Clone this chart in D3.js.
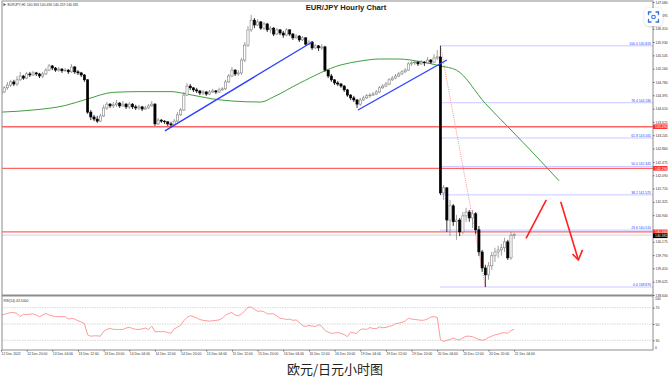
<!DOCTYPE html>
<html>
<head>
<meta charset="utf-8">
<script src="https://cdn.jsdelivr.net/npm/d3@7"></script>
<style>
  html, body { margin: 0; padding: 0; background: #fff; }
  svg { display: block; }
</style>
</head>
<body>
<svg id="chart" width="672" height="378"></svg>
<script>
// EUR/JPY H1 candles (open = previous close)
const timeLabels = [
  "12 Dec 2022", "12 Dec 20:00", "13 Dec 04:00", "13 Dec 12:00", "13 Dec 20:00",
  "14 Dec 04:00", "14 Dec 12:00", "14 Dec 20:00", "15 Dec 04:00", "15 Dec 12:00",
  "15 Dec 20:00", "16 Dec 04:00", "16 Dec 12:00", "16 Dec 20:00", "19 Dec 04:00",
  "19 Dec 12:00", "19 Dec 20:00", "20 Dec 04:00", "20 Dec 12:00", "20 Dec 20:00",
  "21 Dec 04:00"
];
const barsPerLabel = 8;

const firstOpen = 144.43;
const closes = [
  144.49, 144.61, 144.69, 144.78, 144.72, 144.84, 144.95, 144.89, 145.01, 144.98,
  145.04, 145.01, 144.95, 145.01, 145.12, 145.24, 145.18, 145.12, 145.15, 145.10,
  145.12, 145.07, 145.21, 145.07, 145.04, 144.98, 144.84, 143.91, 143.77, 143.71,
  143.65, 143.80, 144.03, 144.14, 144.09, 144.12, 144.17, 144.09, 144.14, 144.06,
  144.14, 144.06, 144.03, 144.06, 144.00, 144.03, 144.09, 144.14, 143.57, 143.68,
  143.65, 143.63, 143.57, 143.54, 143.65, 143.83, 143.97, 144.40, 144.66, 144.61,
  144.55, 144.52, 144.46, 144.49, 144.43, 144.49, 144.52, 144.49, 144.55, 144.58,
  144.78, 144.95, 145.12, 145.01, 145.04, 145.41, 145.84, 146.28, 146.56, 146.42,
  146.51, 146.33, 146.45, 146.28, 146.33, 146.16, 146.28, 146.19, 146.13, 146.28,
  146.16, 146.05, 146.10, 145.99, 146.05, 145.87, 145.93, 145.76, 145.82, 145.76,
  145.79, 145.12, 144.95, 144.84, 144.75, 144.72, 144.66, 144.55, 144.40, 144.32,
  144.26, 144.14, 144.26, 144.32, 144.38, 144.40, 144.43, 144.49, 144.61, 144.66,
  144.72, 144.84, 144.89, 144.95, 145.01, 145.07, 145.12, 145.30, 145.33, 145.35,
  145.30, 145.35, 145.33, 145.41, 145.35, 145.47, 145.50, 141.58, 141.73, 140.80,
  141.21, 140.75, 140.80, 140.46, 140.92, 141.03, 140.86, 140.98, 140.52, 139.88,
  139.42, 139.22, 139.48, 139.77, 139.88, 139.94, 140.00, 140.17, 139.71, 140.363,
  140.381
];
const highs = [
  144.58, 144.66, 144.78, 144.84, 144.84, 144.95, 145.07, 144.98, 145.07, 145.07,
  145.10, 145.07, 145.04, 145.07, 145.18, 145.30, 145.27, 145.21, 145.21, 145.18,
  145.18, 145.15, 145.30, 145.24, 145.12, 145.07, 145.01, 144.86, 143.97, 143.83,
  143.80, 143.86, 144.12, 144.20, 144.17, 144.20, 144.26, 144.20, 144.23, 144.17,
  144.20, 144.17, 144.12, 144.12, 144.09, 144.09, 144.14, 144.23, 144.17, 143.74,
  143.71, 143.68, 143.65, 143.63, 143.71, 143.91, 144.03, 144.49, 144.75, 144.72,
  144.63, 144.61, 144.55, 144.55, 144.52, 144.55, 144.58, 144.55, 144.61, 144.63,
  144.84, 145.01, 145.21, 145.15, 145.12, 145.47, 145.93, 146.39, 146.71, 146.62,
  146.59, 146.53, 146.51, 146.48, 146.39, 146.36, 146.33, 146.30, 146.25, 146.33,
  146.30, 146.19, 146.16, 146.13, 146.10, 146.07, 145.99, 145.96, 145.87, 145.84,
  145.87, 145.82, 145.12, 145.01, 144.86, 144.81, 144.75, 144.69, 144.58, 144.43,
  144.38, 144.29, 144.32, 144.38, 144.43, 144.46, 144.49, 144.55, 144.66, 144.72,
  144.78, 144.89, 144.95, 145.01, 145.07, 145.12, 145.18, 145.35, 145.38, 145.41,
  145.38, 145.41, 145.38, 145.50, 145.44, 145.58, 145.70, 145.82, 141.81, 141.73,
  141.38, 141.26, 140.95, 140.86, 141.03, 141.15, 141.09, 141.09, 141.03, 140.63,
  139.94, 139.51, 139.59, 139.88, 140.00, 140.06, 140.11, 140.29, 140.23, 140.46,
  140.436
];
const lows = [
  144.38, 144.46, 144.55, 144.63, 144.66, 144.66, 144.81, 144.84, 144.86, 144.92,
  144.95, 144.95, 144.89, 144.89, 144.98, 145.10, 145.12, 145.07, 145.07, 145.04,
  145.07, 145.01, 145.04, 145.01, 144.98, 144.92, 144.78, 143.86, 143.68, 143.65,
  143.60, 143.63, 143.77, 143.97, 144.03, 144.03, 144.06, 144.03, 144.06, 144.00,
  144.00, 144.00, 143.97, 143.97, 143.94, 143.97, 144.00, 144.06, 143.51, 143.54,
  143.60, 143.57, 143.51, 143.48, 143.51, 143.63, 143.80, 143.94, 144.38, 144.55,
  144.49, 144.46, 144.40, 144.40, 144.38, 144.40, 144.46, 144.43, 144.46, 144.52,
  144.55, 144.75, 144.92, 144.95, 144.95, 144.98, 145.35, 145.79, 146.22, 146.33,
  146.39, 146.28, 146.28, 146.22, 146.19, 146.10, 146.13, 146.13, 146.05, 146.10,
  146.10, 145.99, 146.02, 145.93, 145.96, 145.82, 145.84, 145.70, 145.73, 145.67,
  145.70, 145.07, 144.89, 144.78, 144.69, 144.66, 144.61, 144.49, 144.35, 144.26,
  144.20, 144.03, 144.09, 144.23, 144.29, 144.32, 144.38, 144.40, 144.46, 144.58,
  144.63, 144.69, 144.81, 144.86, 144.92, 144.98, 145.04, 145.10, 145.24, 145.27,
  145.24, 145.27, 145.24, 145.30, 145.30, 145.33, 145.41, 141.52, 141.38, 140.46,
  140.34, 140.63, 140.23, 140.34, 140.40, 140.75, 140.75, 140.57, 140.40, 139.77,
  139.31, 138.87, 139.08, 139.36, 139.59, 139.71, 139.77, 139.88, 139.65, 139.65,
  140.259
];

// green moving average (shifted forward), read at these bars
const maBars   = [0, 10, 20, 27, 35, 43, 53, 58, 66, 72, 81, 85, 93, 106, 112, 118, 124, 131, 137, 142, 151, 158, 165, 174];
const maValues = [143.91, 143.97, 144.10, 144.29, 144.48, 144.50, 144.50, 144.43, 144.29, 144.23, 144.20, 144.35,
                  144.74, 145.27, 145.38, 145.44, 145.44, 145.36, 145.24, 145.12, 144.16, 143.49, 142.82, 141.93];

// RSI(14), one value per bar
const rsiValues = [
  60, 62, 63, 64, 64, 63, 59, 62, 61.5, 62,
  62.5, 61, 59, 61, 63, 61, 60, 59, 59, 59,
  59, 56, 57, 56, 54, 52.5, 50.5, 36.7, 35, 35.5,
  35.5, 35, 41, 43.5, 44.5, 43.5, 43.3, 43.3, 43.3, 45,
  46, 44.5, 43.5, 43.3, 44, 45, 43.3, 47.5, 40.6, 40.6,
  40.6, 40.6, 39.5, 38.6, 44, 46, 48.4, 54, 58, 60.2,
  59, 57.5, 55.5, 54.5, 54, 53.5, 54, 54.5, 55, 57,
  61, 63, 64, 61, 60, 62.5, 66, 70.5, 70.8, 68,
  65.5, 66, 65, 62.5, 62.5, 62.5, 60, 57, 56.5, 55.5,
  56, 54.5, 55, 52, 48, 47, 48.2, 47.5, 47, 49,
  47.3, 42, 40, 38.6, 39, 39.5, 38.6, 37, 34.5, 40,
  39, 38.5, 43, 44, 43.3, 45.7, 44.5, 44.3, 46.5, 45.5,
  45.7, 47.2, 48, 50.4, 51, 52, 53.5, 57, 56, 55.5,
  55.1, 54.5, 54.8, 56.3, 58.5, 59, 58.2, 31, 28.5, 30,
  31, 32.8, 31, 30.5, 33, 35, 35, 34.5, 32.5, 31,
  30, 31, 33.5, 35, 36.7, 37.5, 39, 39.4, 38.5, 42,
  43.5
];
const rsiLevels = [70, 50, 30];

const priceTicks = [147.080, 146.695, 146.310, 145.930, 145.545, 145.160, 144.780, 144.395, 144.010,
                    143.625, 143.245, 142.860, 142.475, 142.090, 141.710, 141.325, 140.940, 140.175,
                    139.790, 139.410, 139.025, 138.640];

// drawn objects: horizontal levels, fibo, trend lines, arrows (bar index, price)
const redLevels = [143.49, 142.29, 140.46];
const fibRatios = [100.0, 76.4, 61.8, 50.0, 38.2, 23.6, 0.0];
const fibHigh = 145.82, fibLow = 138.87;
const fibHighBar = 137, fibLowBar = 151;
const trendLines = [
  [[51.1, 143.37], [97.0, 145.93]],
  [[111.3, 143.97], [139.0, 145.41]]
];
const arrowUp = [[163.7, 140.27], [170.0, 141.38]];
const arrowDown = [[174.5, 141.33], [180.0, 139.65]];
const arrowHead = [[178.2, 139.82], [180.0, 139.65], [181.3, 139.94]];

const dims = {
  width: 672, height: 378,
  left: 2, right: 653, top: 1,
  mainBottom: 294.5, rsiTop: 296.5, rsiBottom: 350
};
const tinyFont = "'Liberation Sans', Arial, sans-serif";

const svg = d3.select('#chart');

const x = d3.scaleLinear().domain([0, closes.length - 1]).range([1, 514.2]);
const y = d3.scaleLinear().domain([138.64, 147.08]).range([295, 2.1]);
const yRsi = d3.scaleLinear().domain([30, 70]).range([340.3, 307.7]);

const defs = svg.append('defs');
defs.append('clipPath').attr('id', 'mainClip').append('rect')
    .attr('x', dims.left).attr('y', dims.top)
    .attr('width', dims.right - dims.left).attr('height', dims.mainBottom - dims.top);
defs.append('clipPath').attr('id', 'rsiClip').append('rect')
    .attr('x', dims.left).attr('y', dims.rsiTop)
    .attr('width', dims.right - dims.left).attr('height', dims.rsiBottom - dims.rsiTop);
const shadow = defs.append('filter').attr('id', 'shadow').attr('x', '-50%').attr('y', '-50%')
    .attr('width', '200%').attr('height', '200%');
shadow.append('feDropShadow').attr('dx', 0).attr('dy', 0.5).attr('stdDeviation', 1.2)
    .attr('flood-color', '#000').attr('flood-opacity', 0.25);

const main = svg.append('g').attr('clip-path', 'url(#mainClip)');

// horizontal red levels
main.selectAll('line.level').data(redLevels).join('line')
    .attr('x1', dims.left).attr('x2', dims.right)
    .attr('y1', d => y(d)).attr('y2', d => y(d))
    .attr('stroke', '#ff6464').attr('stroke-width', 1.4);

// bid line
main.append('line')
    .attr('x1', dims.left).attr('x2', dims.right)
    .attr('y1', y(closes[closes.length - 1]) + 0.5).attr('y2', y(closes[closes.length - 1]) + 0.5)
    .attr('stroke', '#c8c8c8').attr('stroke-width', 0.8);

// fibo levels
const fibLevels = fibRatios.map(r => ({ r, p: fibLow + (fibHigh - fibLow) * r / 100 }));
main.selectAll('line.fib').data(fibLevels).join('line')
    .attr('x1', x(fibHighBar)).attr('x2', dims.right)
    .attr('y1', d => y(d.p)).attr('y2', d => y(d.p))
    .attr('stroke', '#7a7aff').attr('stroke-width', 0.8).attr('stroke-dasharray', '1,1');
main.selectAll('text.fib').data(fibLevels).join('text')
    .attr('x', dims.right - 2).attr('y', d => y(d.p) - 1.2)
    .attr('text-anchor', 'end').attr('font-size', 3.4).attr('font-family', tinyFont)
    .attr('fill', '#3a3aff')
    .text(d => `${d.r.toFixed(1)} ${d.p.toFixed(3)}`);

// fibo trend (red dotted)
main.append('line')
    .attr('x1', x(fibHighBar)).attr('y1', y(fibHigh))
    .attr('x2', x(fibLowBar)).attr('y2', y(fibLow))
    .attr('stroke', '#ff7070').attr('stroke-width', 0.8).attr('stroke-dasharray', '1,1.2');

// moving average
const maLine = d3.line().x((d, i) => x(maBars[i])).y(d => y(d)).curve(d3.curveMonotoneX);
main.append('path').datum(maValues)
    .attr('fill', 'none').attr('stroke', '#3f9e3f').attr('stroke-width', 1)
    .attr('d', maLine);

// candles
const bars = closes.map((c, i) => ({
  i, c, h: highs[i], l: lows[i], o: i === 0 ? firstOpen : closes[i - 1]
}));
const candle = main.selectAll('g.candle').data(bars).join('g');
candle.append('line')
    .attr('x1', d => x(d.i)).attr('x2', d => x(d.i))
    .attr('y1', d => y(d.h)).attr('y2', d => y(d.l))
    .attr('stroke', d => d.c >= d.o ? '#8a8a8a' : '#000').attr('stroke-width', 0.8);
candle.append('rect')
    .attr('x', d => x(d.i) - 1.1).attr('width', 2.2)
    .attr('y', d => y(Math.max(d.o, d.c)))
    .attr('height', d => Math.max(0.7, Math.abs(y(d.o) - y(d.c))))
    .attr('fill', d => d.c >= d.o ? '#fff' : '#000')
    .attr('stroke', d => d.c >= d.o ? '#7d7d7d' : '#000').attr('stroke-width', 0.6);

// trend lines and arrows
const pt = d3.line().x(d => x(d[0])).y(d => y(d[1]));
main.selectAll('path.trend').data(trendLines).join('path')
    .attr('d', pt).attr('fill', 'none').attr('stroke', '#2b3fff').attr('stroke-width', 1.3);
[arrowUp, arrowDown, arrowHead].forEach(a => {
  main.append('path').datum(a).attr('d', pt).attr('fill', 'none')
      .attr('stroke', '#ff2020').attr('stroke-width', 1.6).attr('stroke-linejoin', 'round');
});

// RSI panel
const rsi = svg.append('g').attr('clip-path', 'url(#rsiClip)');
rsi.selectAll('line.lvl').data(rsiLevels).join('line')
    .attr('x1', dims.left).attr('x2', dims.right)
    .attr('y1', d => yRsi(d)).attr('y2', d => yRsi(d))
    .attr('stroke', '#cfcfcf').attr('stroke-width', 0.8).attr('stroke-dasharray', '1.5,1');
rsi.append('path').datum(rsiValues)
    .attr('fill', 'none').attr('stroke', '#ff8f8f').attr('stroke-width', 0.9)
    .attr('d', d3.line().x((d, i) => x(i)).y(d => yRsi(d)));
svg.append('text').attr('x', 3.5).attr('y', 301.8)
    .attr('font-size', 3.4).attr('font-family', tinyFont).attr('fill', '#333')
    .text(`RSI(14) ${rsiValues[rsiValues.length - 1].toFixed(4)}`);

// frames
svg.append('rect').attr('x', dims.left).attr('y', dims.top)
    .attr('width', dims.right - dims.left).attr('height', dims.rsiBottom - dims.top)
    .attr('fill', 'none').attr('stroke', '#8c8c8c').attr('stroke-width', 1);
svg.append('rect').attr('x', dims.left).attr('y', dims.mainBottom)
    .attr('width', dims.right - dims.left).attr('height', dims.rsiTop - dims.mainBottom)
    .attr('fill', '#8c8c8c');

// price axis
svg.append('g')
    .attr('transform', `translate(${dims.right},0)`)
    .call(d3.axisRight(y).tickValues(priceTicks).tickSize(1.5).tickPadding(1).tickFormat(d3.format('.3f')))
    .call(g => g.select('.domain').remove())
    .call(g => g.selectAll('text').attr('font-size', 3.4).attr('font-family', tinyFont).attr('fill', '#333'))
    .call(g => g.selectAll('line').attr('stroke', '#666'));

// level price tags
const tags = redLevels.map(p => ({ p, fill: '#ff3030' }))
    .concat([{ p: closes[closes.length - 1], fill: '#000' }]);
const tag = svg.selectAll('g.tag').data(tags).join('g')
    .attr('transform', d => `translate(${dims.right},${y(d.p) + (d.fill === '#000' ? 1.2 : 0)})`);
tag.append('rect').attr('x', 0).attr('y', -2.3).attr('width', 14.5).attr('height', 4.6)
    .attr('fill', d => d.fill);
tag.append('text').attr('x', 2).attr('y', 1.2)
    .attr('font-size', 3.4).attr('font-family', tinyFont).attr('fill', '#fff')
    .text(d => d.p.toFixed(3));

// RSI axis
svg.append('g')
    .attr('transform', `translate(${dims.right},0)`)
    .call(d3.axisRight(yRsi).tickValues(rsiLevels).tickSize(1.5).tickPadding(1))
    .call(g => g.select('.domain').remove())
    .call(g => g.selectAll('text').attr('font-size', 3.4).attr('font-family', tinyFont).attr('fill', '#333'))
    .call(g => g.selectAll('line').attr('stroke', '#666'));
svg.append('text').attr('x', 655).attr('y', dims.rsiTop + 3.6).attr('font-size', 3.4)
    .attr('font-family', tinyFont).attr('fill', '#333').text('100');
svg.append('text').attr('x', 655).attr('y', dims.rsiBottom - 0.6).attr('font-size', 3.4)
    .attr('font-family', tinyFont).attr('fill', '#333').text('0');

// time axis
svg.append('g')
    .attr('transform', `translate(0,${dims.rsiBottom})`)
    .call(d3.axisBottom(x).tickValues(timeLabels.map((t, i) => i * barsPerLabel))
        .tickSize(1.5).tickPadding(1).tickFormat((d, i) => timeLabels[i]))
    .call(g => g.select('.domain').remove())
    .call(g => g.selectAll('text').attr('text-anchor', 'start').attr('font-size', 3.4)
        .attr('font-family', tinyFont).attr('fill', '#333'))
    .call(g => g.selectAll('line').attr('stroke', '#666'));

// symbol header
const last = bars[bars.length - 1];
svg.append('path').attr('d', 'M3.5,3 L6,4.6 L3.5,6.2 Z').attr('fill', '#555');
svg.append('text').attr('x', 7.5).attr('y', 5.8)
    .attr('font-size', 3.4).attr('font-family', tinyFont).attr('fill', '#333')
    .text(`EURJPY,H1  ${last.o.toFixed(3)} ${last.h.toFixed(3)} ${last.l.toFixed(3)} ${last.c.toFixed(3)}`);

// title
svg.append('text').attr('x', 346).attr('y', 10)
    .attr('text-anchor', 'middle').attr('font-size', 7.6).attr('font-weight', 'bold')
    .attr('font-family', "'Liberation Sans', Arial, sans-serif").attr('fill', '#222')
    .text('EUR/JPY Hourly Chart');

// caption under the chart
svg.append('text').attr('x', 335).attr('y', 370.5)
    .attr('text-anchor', 'middle').attr('dominant-baseline', 'middle').attr('font-size', 13)
    .attr('font-family', "'Noto Sans CJK SC', sans-serif").attr('fill', '#222')
    .text('欧元/日元小时图');

// screen-capture badge in the top right corner
const badge = svg.append('g').attr('transform', 'translate(653.5,17)');
badge.append('rect').attr('x', -9).attr('y', -9).attr('width', 18).attr('height', 18).attr('rx', 5)
    .attr('fill', '#fff').attr('filter', 'url(#shadow)');
badge.append('path')
    .attr('d', 'M-5,-2.5 V-5 H-2.5 M2.5,-5 H5 V-2.5 M5,2.5 V5 H2.5 M-2.5,5 H-5 V2.5')
    .attr('fill', 'none').attr('stroke', '#2f6fe0').attr('stroke-width', 1.3).attr('stroke-linecap', 'round');
badge.append('circle').attr('r', 1.8).attr('fill', 'none').attr('stroke', '#2f6fe0').attr('stroke-width', 1.1);
</script>
</body>
</html>
